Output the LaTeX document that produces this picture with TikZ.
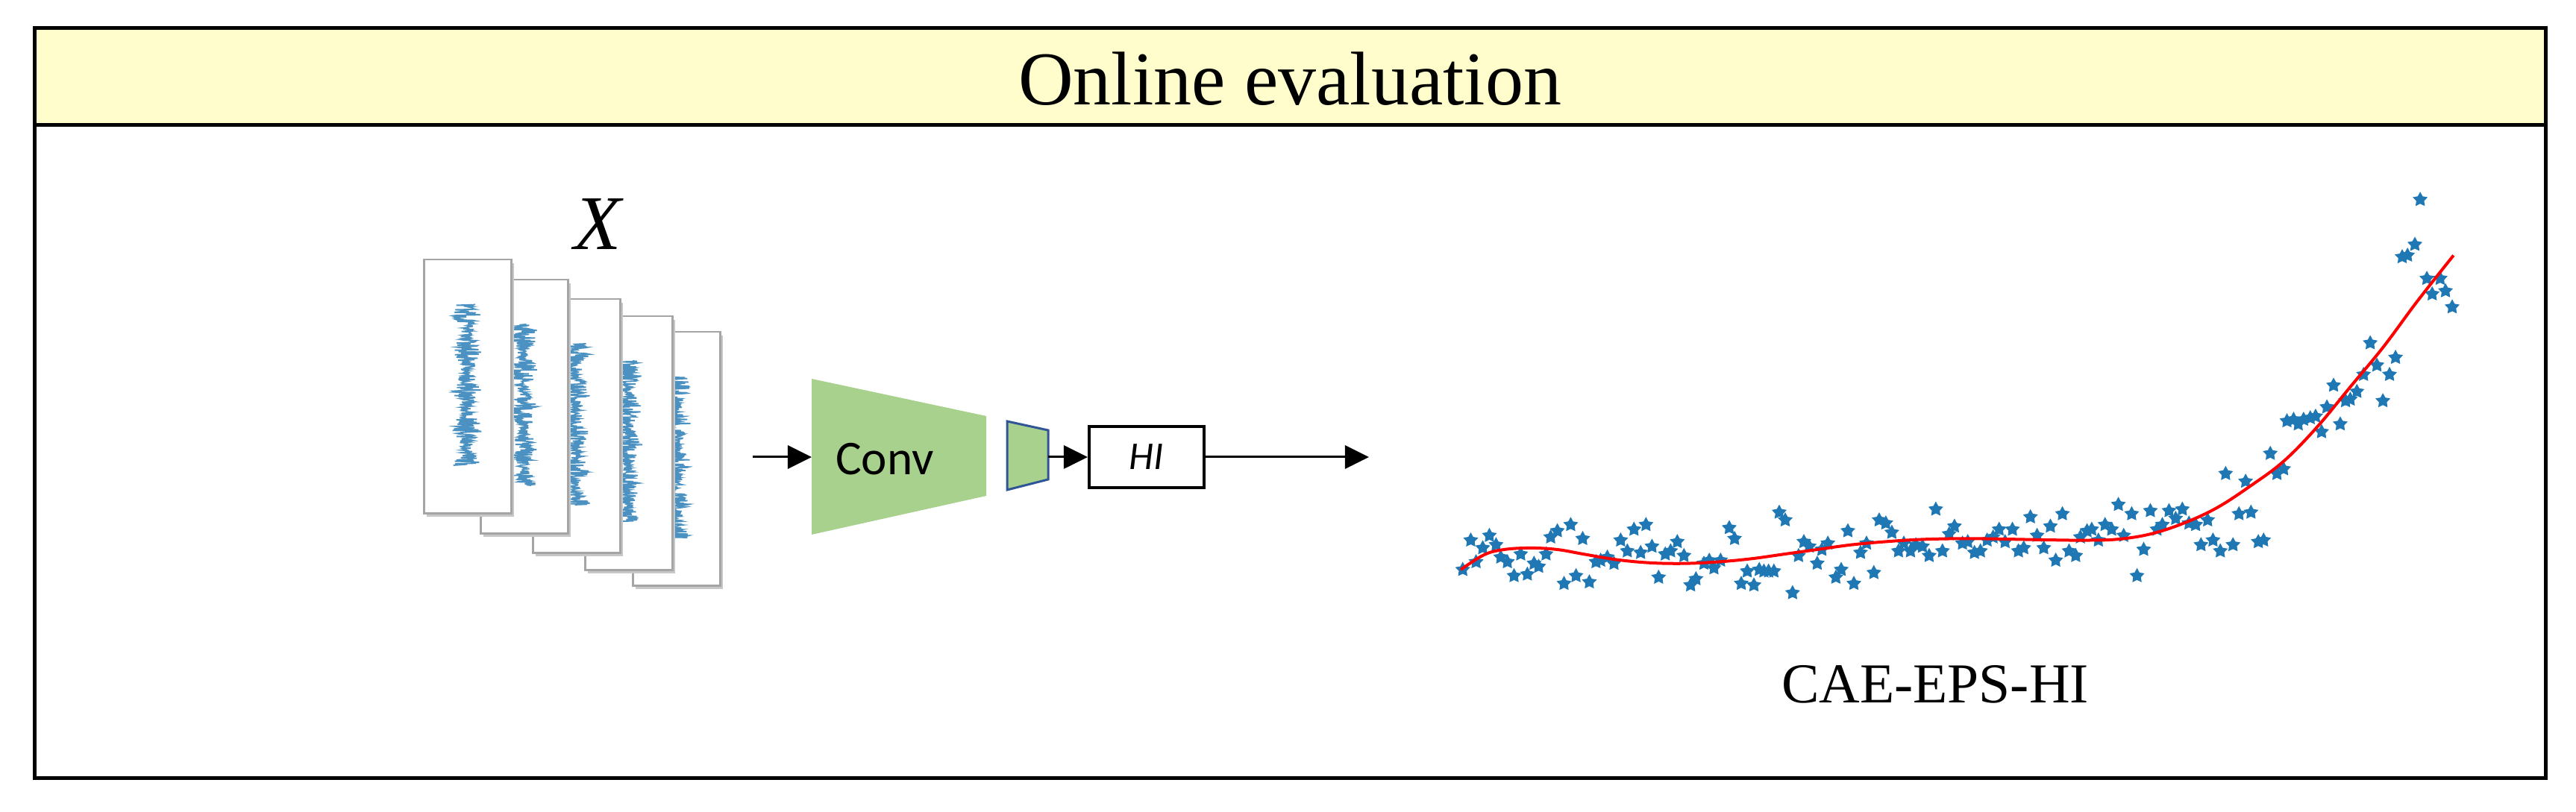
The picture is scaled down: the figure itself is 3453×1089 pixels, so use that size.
\documentclass[tikz,border=0pt]{standalone}
\usepackage{fontspec}
\setmainfont{Liberation Serif}
\newfontfamily\calib{Carlito}
\usetikzlibrary{shapes.geometric,arrows.meta}
\definecolor{hdr}{RGB}{255,253,204}
\definecolor{convg}{RGB}{169,209,142}
\definecolor{trapb}{RGB}{47,85,151}
\definecolor{mplblue}{RGB}{31,119,180}
\definecolor{framegray}{RGB}{165,165,165}
\begin{document}
\begin{tikzpicture}[x=0.01cm,y=-0.01cm,
  arr/.style={line width=0.03cm,-{Triangle[length=0.32cm,width=0.31cm]}},
  frm/.style={draw=framegray,line width=0.025cm,fill=white,minimum width=1.17cm,minimum height=3.4cm,inner sep=0pt,anchor=north west},
  shd/.style={fill=black!22},
  sig/.style={draw=mplblue,line width=0.018cm,opacity=0.8},
  pt/.style={star,star points=5,star point ratio=1.9,fill=mplblue,draw=none,inner sep=0pt,minimum size=0.21cm},
  border/.style={line width=0.05cm}]
\useasboundingbox (0,0) rectangle (3453,1089);
% outer frame and header
\fill[hdr] (46.5,37.5) rectangle (3412.5,167.5);
\draw[border] (46.5,37.5) rectangle (3412.5,1043.5);
\draw[border] (46.5,167.5) -- (3412.5,167.5);
\node[font=\fontsize{29}{34}\selectfont,anchor=base,inner sep=0pt] (title) at (1729,141) {Online evaluation};
% stacked signal frames
\foreach \i/\L/\T in {5/847/444,4/783/423,3/713/400,2/643/374,1/567/347} {
  \fill[shd] (\L+5,\T+6) rectangle ++(117,340);
  \node[frm] (f\i) at (\L,\T) {};
  \pgfmathsetseed{\i*37+11}
  \draw[sig] plot[domain=0:216,samples=320,variable=\t] ({\L+59+(14+6*sin(\t*7))*rand},{\T+61+\t});
}
\node[font=\fontsize{29.5}{34}\selectfont\itshape,anchor=base,inner sep=0pt] (xlab) at (801,335) {X};
% encoder
\coordinate (in) at (1009,613);
\coordinate (convL) at (1088,613);
\fill[convg] (1088,508) -- (1322,558) -- (1322,665) -- (1088,717) -- cycle;
\node[font=\calib\fontsize{18.5}{22}\selectfont,inner sep=0pt] (conv) at (1186,616) {Conv};
\filldraw[fill=convg,draw=trapb,line width=0.03cm] (1350,565) -- (1405,577) -- (1405,643) -- (1350,657) -- cycle;
\coordinate (trapR) at (1405,613);
\node[draw,line width=0.04cm,minimum width=1.54cm,minimum height=0.81cm,inner sep=0pt,font=\calib\itshape\fontsize{15}{18}\selectfont] (hi) at (1537,613) {HI};
\coordinate (out) at (1835,613);
\draw[arr] (in) -- (convL);
\draw[arr] (trapR) -- (hi.west);
\draw[arr] (hi.east) -- (out);
% scatter plot
\begin{scope}[shift={(1900,220)},x=0.008929cm,y=-0.004146cm]
\foreach \a/\b [count=\k] in {68/1310,80/1215,88/1285,98/1240,108/1200,118/1230,125/1270,135/1285,145/1330,155/1260,165/1325,175/1290,182/1300,193/1260,200/1205,210/1185,220/1355,230/1165,238/1330,248/1210,258/1350,268/1285,275/1280,285/1270,295/1290,305/1215,315/1250,325/1180,335/1255,343/1165,352/1235,362/1335,372/1260,380/1250,390/1220,400/1265,410/1360,418/1340,430/1290,438/1280,445/1305,455/1280,468/1175,476/1210,486/1355,495/1315,505/1360,513/1310,520/1315,527/1315,535/1315,543/1125,552/1150,563/1385,572/1265,580/1220,588/1235,600/1290,607/1245,616/1225,628/1335,636/1310,646/1185,655/1355,665/1255,674/1225,685/1320,693/1150,703/1160,712/1190,722/1250,730/1225,740/1250,748/1230,758/1235,768/1265,778/1115,788/1250,798/1195,806/1170,818/1225,826/1220,836/1255,845/1250,855/1215,864/1205,873/1180,882/1220,893/1180,902/1250,910/1240,920/1140,930/1200,940/1240,950/1170,958/1280,968/1130,978/1250,988/1265,995/1205,1005/1185,1012/1180,1022/1215,1032/1165,1042/1180,1052/1100,1060/1200,1072/1130,1080/1330,1090/1245,1100/1120,1110/1180,1118/1165,1128/1120,1138/1145,1148/1115,1158/1160,1168/1165,1176/1230,1186/1150,1194/1215,1205/1250,1213/1000,1224/1230,1233/1130,1243/1025,1251/1125,1262/1220,1270/1215,1280/935,1290/1000,1300/985,1305/830,1315/825,1322/840,1330/825,1340/820,1348/815,1357/865,1365/785,1375/715,1385/840,1393/765,1400/760,1410/735,1420/680,1430/578,1440/650,1449/765,1459/680,1468/625,1478/300,1486/295,1497/260,1505/115,1515/370,1523/420,1535/370,1543/410,1553/462}
  \node[pt] (s\k) at (\a,\b) {};
\draw[red,line width=0.04cm] plot[smooth,tension=0.6] coordinates {(65,1310) (100,1262) (130,1245) (170,1240) (210,1245) (250,1260) (300,1278) (350,1288) (400,1290) (450,1285) (500,1275) (550,1260) (600,1245) (650,1230) (700,1220) (750,1213) (800,1210) (850,1210) (900,1212) (950,1214) (1000,1215) (1050,1212) (1100,1195) (1150,1160) (1200,1110) (1250,1040) (1300,960) (1350,850) (1400,720) (1450,590) (1500,445) (1555,295)};
\end{scope}
\node[font=\fontsize{21.5}{26}\selectfont,anchor=base,inner sep=0pt] (cap) at (2594,943) {CAE-EPS-HI};
\end{tikzpicture}
\end{document}
